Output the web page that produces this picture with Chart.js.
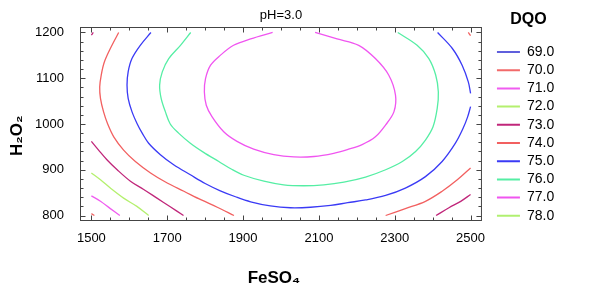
<!DOCTYPE html>
<html>
<head>
<meta charset="utf-8">
<script src="https://cdn.jsdelivr.net/npm/chart.js@4/dist/chart.umd.min.js"></script>
<style>
  html, body { margin: 0; padding: 0; background: #fff; }
  canvas { display: block; }
</style>
</head>
<body>
<canvas id="contourChart" width="592" height="286"></canvas>
<script>
// Axis ticks
var xTickLabels = [1500, 1700, 1900, 2100, 2300, 2500];
var yTickLabels = [800, 900, 1000, 1100, 1200];

// Contour levels (DQO) and their colours
var levels = ['69.0', '70.0', '71.0', '72.0', '73.0', '74.0', '75.0', '76.0', '77.0', '78.0'];
var levelColors = ['#2a2ad0', '#f26a6a', '#f05cf0', '#b4f06e', '#c0267a', '#f26060', '#3a3af5', '#55eea4', '#f055f0', '#b0f070'];

// Contour segments, [FeSO4, H2O2]
var c69 = [];
var c70 = [
  [[1500, 804], [1508, 800]]
];
var c71 = [
  [[1500, 843], [1524, 831], [1550, 815], [1575, 800]]
];
var c72 = [
  [[1500, 893], [1524, 878], [1550, 860], [1585, 838], [1620, 820], [1651, 800]]
];
var c73 = [
  [[1500, 962], [1519, 943], [1541, 922], [1568, 900], [1603, 875], [1638, 857], [1673, 838], [1708, 819], [1743, 800]],
  [[2409, 800], [2443, 817], [2474, 831], [2500, 846]],
  [[1500, 1194], [1505, 1200]]
];
var c74 = [
  [[1572, 1200], [1550, 1165], [1534, 1135], [1526, 1107], [1522, 1081], [1524, 1056], [1532, 1027], [1543, 1000],
   [1559, 972], [1585, 943], [1616, 918], [1656, 893], [1700, 871], [1744, 853], [1790, 834], [1832, 818], [1876, 800]],
  [[2276, 800], [2328, 815], [2381, 831], [2425, 853], [2465, 878], [2500, 904]],
  [[2494, 1200], [2500, 1193]]
];
var c75 = [
  [[1657, 1200], [1629, 1172], [1607, 1143], [1597, 1114], [1594, 1085], [1597, 1056], [1607, 1027], [1621, 1000],
   [1634, 980], [1651, 958], [1682, 933], [1717, 911], [1761, 889], [1800, 870], [1840, 854], [1880, 841], [1920, 830],
   [1972, 821], [2025, 817], [2078, 818], [2131, 822], [2176, 828], [2223, 834], [2276, 844], [2328, 860], [2381, 885],
   [2425, 918], [2460, 958], [2480, 990], [2492, 1015], [2500, 1038]],
  [[2413, 1200], [2452, 1165], [2478, 1128], [2494, 1092], [2500, 1067]]
];
var c76 = [
  [[1762, 1200], [1735, 1172], [1704, 1143], [1687, 1114], [1680, 1085], [1684, 1056], [1695, 1027], [1708, 1000],
   [1730, 980], [1761, 958], [1796, 938], [1836, 918], [1870, 901], [1902, 888], [1955, 875], [2007, 867], [2060, 865],
   [2113, 867], [2166, 873], [2223, 884], [2276, 900], [2320, 918], [2355, 940], [2381, 965], [2401, 994], [2412, 1034],
   [2415, 1070], [2408, 1107], [2390, 1143], [2359, 1172], [2308, 1200]]
];
var c77 = [
  [[1978, 1200], [1920, 1186], [1875, 1172], [1840, 1150], [1814, 1128], [1801, 1099], [1798, 1070], [1803, 1041],
   [1818, 1016], [1849, 983], [1884, 962], [1928, 945], [1981, 933], [2034, 928], [2087, 929], [2139, 936], [2175, 944],
   [2214, 955], [2249, 972], [2276, 998], [2298, 1027], [2302, 1063], [2284, 1107], [2249, 1143], [2205, 1172],
   [2148, 1186], [2090, 1200]]
];
var c78 = [];

var contours = [c69, c70, c71, c72, c73, c74, c75, c76, c77, c78];

Chart.defaults.font.family = 'Arial, "Liberation Sans", sans-serif';
Chart.defaults.color = '#000';

// segments joined with null points so each level is one dataset
function toPoints(segs) {
  var pts = [];
  segs.forEach(function (seg, k) {
    if (k > 0) pts.push({x: null, y: null});
    seg.forEach(function (p) { pts.push({x: p[0], y: p[1]}); });
  });
  return pts;
}

var datasets = levels.map(function (lvl, i) {
  return {
    label: lvl,
    data: toPoints(contours[i]),
    borderColor: levelColors[i],
    backgroundColor: levelColors[i],
    borderWidth: 1.3,
    showLine: true,
    pointRadius: 0,
    tension: 0.35,
    spanGaps: false
  };
});

// box frame with inward ticks on all four sides
var frameTicks = {
  id: 'frameTicks',
  afterDatasetsDraw: function (chart) {
    var ctx = chart.ctx, a = chart.chartArea;
    var xs = chart.scales.x, ys = chart.scales.y;
    var L = a.left + 0.5, R = a.right - 0.5, T = a.top + 0.5, B = a.bottom - 0.5;
    ctx.save();
    ctx.strokeStyle = '#444';
    ctx.lineWidth = 1;
    ctx.strokeRect(L, T, R - L, B - T);
    ctx.beginPath();
    for (var v = 1500; v <= 2500; v += 50) {
      var px = Math.round(xs.getPixelForValue(v)) + 0.5;
      var len = xTickLabels.indexOf(v) >= 0 ? 5 : 3;
      ctx.moveTo(px, B); ctx.lineTo(px, B - len);
      ctx.moveTo(px, T); ctx.lineTo(px, T + len);
    }
    for (var w = 800; w <= 1200; w += 20) {
      var py = Math.round(ys.getPixelForValue(w)) + 0.5;
      var ylen = yTickLabels.indexOf(w) >= 0 ? 5 : 3;
      ctx.moveTo(L, py); ctx.lineTo(L + ylen, py);
      ctx.moveTo(R, py); ctx.lineTo(R - ylen, py);
    }
    ctx.stroke();
    ctx.restore();
  }
};

var ctx = document.getElementById('contourChart').getContext('2d');
var contourChart = new Chart(ctx, {
  type: 'scatter',
  data: {datasets: datasets},
  options: {
    responsive: false,
    animation: false,
    devicePixelRatio: 1,
    layout: {padding: {left: 0, right: 27.8, top: 0, bottom: 0}},
    plugins: {
      title: {
        display: true,
        text: 'pH=3.0',
        fullSize: false,
        font: {size: 13, weight: 'normal'},
        padding: {top: 7.4, bottom: 4}
      },
      legend: {
        position: 'right',
        align: 'start',
        title: {
          display: true,
          text: 'DQO',
          font: {size: 16, weight: 'bold'},
          padding: {top: 12, bottom: 9.6}
        },
        labels: {
          usePointStyle: true,
          pointStyleWidth: 23,
          padding: 4.2,
          font: {size: 14},
          generateLabels: function (chart) {
            return chart.data.datasets.map(function (ds, i) {
              return {
                text: ds.label,
                fillStyle: ds.borderColor,
                strokeStyle: ds.borderColor,
                lineWidth: i === 0 ? 1.3 : 2,
                pointStyle: 'line',
                hidden: false,
                datasetIndex: i
              };
            });
          }
        }
      },
      tooltip: {enabled: false}
    },
    scales: {
      x: {
        type: 'linear',
        min: 1470,
        max: 2530,
        afterBuildTicks: function (s) { s.ticks = xTickLabels.map(function (v) { return {value: v}; }); },
        afterFit: function (s) { s.height = 65; },
        grid: {display: false},
        border: {display: false},
        ticks: {padding: 2, font: {size: 13}, maxRotation: 0, autoSkip: false,
                callback: function (v) { return String(v); }},
        title: {display: true, text: 'FeSO₄   ', font: {size: 17, weight: 'bold'}, padding: {top: 0, bottom: -3}}
      },
      y: {
        type: 'linear',
        min: 788,
        max: 1212,
        afterBuildTicks: function (s) { s.ticks = yTickLabels.map(function (v) { return {value: v}; }); },
        afterFit: function (s) { s.width = 80; },
        grid: {display: false},
        border: {display: false},
        ticks: {padding: 8, font: {size: 13}, autoSkip: false,
                callback: function (v) { return String(v); }},
        title: {display: true, text: 'H₂O₂     ', font: {size: 17, weight: 'bold'}, padding: {top: 7, bottom: 0}}
      },
      yGap: {
        type: 'linear',
        position: 'right',
        afterFit: function (s) { s.width = 10.8; },
        grid: {display: false},
        border: {display: false},
        ticks: {display: false}
      }
    }
  },
  plugins: [frameTicks]
});
</script>
</body>
</html>
